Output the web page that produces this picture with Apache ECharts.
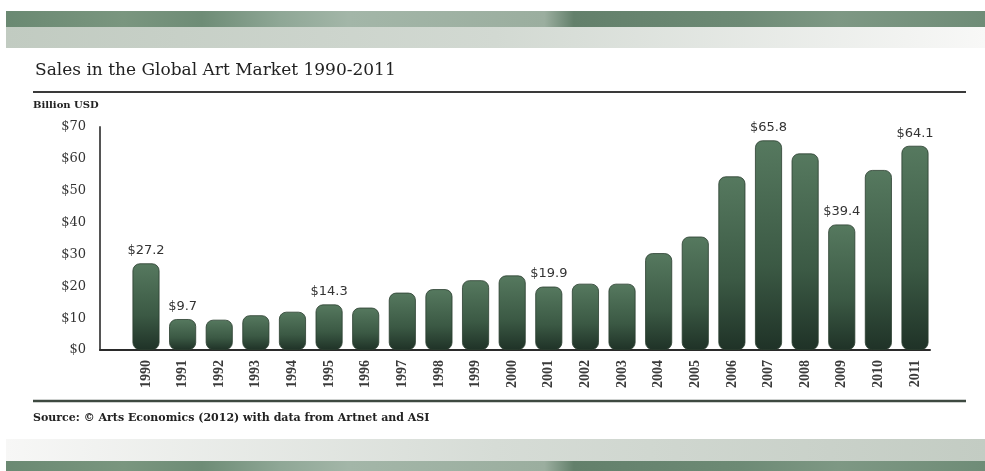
<!DOCTYPE html>
<html><head><meta charset="utf-8">
<script src="https://cdn.jsdelivr.net/npm/echarts@6/dist/echarts.min.js"></script>
<style>html,body{margin:0;padding:0;background:#fff}#c{width:985px;height:471px}</style>
</head><body><div id="c"></div>
<script>
const years = [1990,1991,1992,1993,1994,1995,1996,1997,1998,1999,2000,2001,2002,2003,2004,2005,2006,2007,2008,2009,2010,2011];
const sales = [27.2,9.7,9.5,10.9,12.0,14.3,13.3,18.0,19.1,21.9,23.4,19.9,20.8,20.8,30.4,35.6,54.5,65.8,61.7,39.4,56.5,64.1];
const labeledYears = [1990,1991,1995,2001,2007,2009,2011];
const yTicks = [0,10,20,30,40,50,60,70];
const titleText = 'Sales in the Global Art Market 1990-2011';
const unitText = 'Billion USD';
const sourceText = 'Source: \u00A9 Arts Economics (2012) with data from Artnet and ASI';

const chart = echarts.init(document.getElementById('c'), null, {renderer:'canvas'});
const greenBand = new echarts.graphic.LinearGradient(0,0,1,0,[
  {offset:0,color:'#6a8972'},{offset:0.12,color:'#7a967f'},{offset:0.2,color:'#6e8c76'},
  {offset:0.28,color:'#8fa796'},{offset:0.35,color:'#a3b6a8'},{offset:0.55,color:'#9bae9f'},
  {offset:0.58,color:'#63806b'},{offset:0.75,color:'#6d8a75'},{offset:0.85,color:'#7e9884'},{offset:1,color:'#6f8c77'}]);
const data = years.map((y,i)=>[y, sales[i]]);
chart.setOption({
  backgroundColor:'#ffffff',
  animation:false,
  graphic:[
    {type:'rect',shape:{x:6,y:11,width:979,height:16},style:{fill:greenBand}},
    {type:'rect',shape:{x:6,y:27,width:979,height:21},style:{fill:new echarts.graphic.LinearGradient(0,0,1,0,[{offset:0,color:'#c1cbc1'},{offset:0.5,color:'#d2d9d2'},{offset:1,color:'#f8f8f7'}])}},
    {type:'rect',shape:{x:6,y:439,width:979,height:22},style:{fill:new echarts.graphic.LinearGradient(0,0,1,0,[{offset:0,color:'#f7f7f6'},{offset:0.5,color:'#d6dcd6'},{offset:1,color:'#c3ccc3'}])}},
    {type:'rect',shape:{x:6,y:461,width:979,height:10},style:{fill:greenBand}},
    {type:'text',left:35,top:62,style:{text:titleText,font:'17px "DejaVu Serif"',fill:'#222'}},
    {type:'line',shape:{x1:33,y1:92,x2:966,y2:92},style:{stroke:'#3a3a3a',lineWidth:2}},
    {type:'text',left:33,top:100,style:{text:unitText,font:'bold 10px "DejaVu Serif"',fill:'#222'}},
    {type:'line',shape:{x1:33,y1:401,x2:966,y2:401},style:{stroke:'#3e4a41',lineWidth:2.5}},
    {type:'text',left:33,top:413,style:{text:sourceText,font:'bold 11px "DejaVu Serif"',fill:'#222'}}
  ],
  grid:{left:100,right:55,top:127,bottom:121},
  xAxis:{type:'value',min:1988.744,max:2011.41,
    axisLine:{show:true,lineStyle:{color:'#2a2a2a',width:2}},
    axisTick:{show:false},splitLine:{show:false},
    axisLabel:{customValues:years,rotate:90,margin:10,formatter:v=>String(v),
      fontFamily:'Liberation Serif',fontWeight:'bold',fontSize:14,color:'#3a3a3a'}},
  yAxis:{type:'value',min:0,max:70,interval:10,
    axisLine:{show:true,lineStyle:{color:'#555',width:2}},
    axisTick:{show:false},splitLine:{show:false},
    axisLabel:{customValues:yTicks,margin:14,formatter:v=>'$'+v,fontFamily:'DejaVu Serif',fontSize:13,color:'#333'}},
  series:[{type:'bar',data:data,barWidth:27,
    itemStyle:{borderRadius:7,borderColor:'#2a3d2f',borderWidth:0.8,
      color:new echarts.graphic.LinearGradient(0,0,0,1,[{offset:0,color:'#56795f'},{offset:0.6,color:'#3b5944'},{offset:1,color:'#1f3227'}])},
    label:{show:true,position:'top',distance:6,fontFamily:'DejaVu Sans',fontSize:13,color:'#333',
      formatter:p=>labeledYears.includes(p.value[0])?'$'+p.value[1].toFixed(1):''}
  }]
});
</script></body></html>
